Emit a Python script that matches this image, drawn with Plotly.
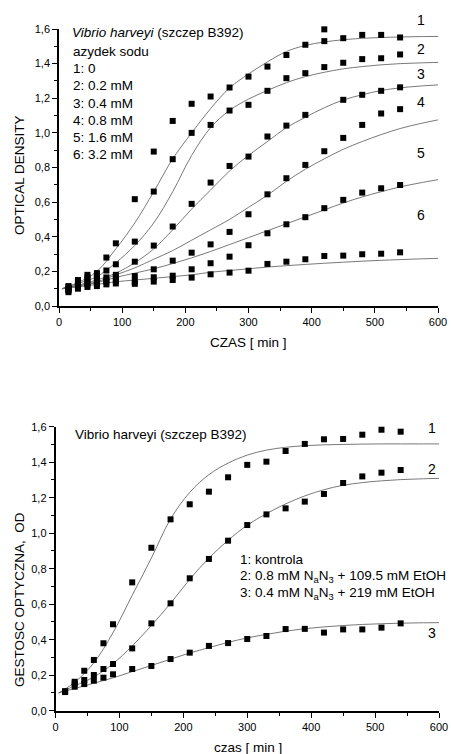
import plotly.graph_objects as go

W, H = 451, 754
FONT = "Liberation Sans, Arial, sans-serif"

# ---------------- data: top chart (sodium azide series) ----------------
time_pts = [15, 30, 45, 60, 75, 90, 120, 150, 180, 210, 240, 270, 300, 330, 360, 390, 420, 450, 480, 510, 540]

top_s1_t = time_pts + [420]
top_s1 = [0.115, 0.15, 0.18, 0.19, 0.28, 0.362, 0.617, 0.892, 1.069, 1.168, 1.21, 1.262, 1.325, 1.383,
          1.45, 1.509, 1.53, 1.547, 1.566, 1.566, 1.551, 1.598]
top_s2_t = time_pts
top_s2 = [0.11, 0.14, 0.165, 0.175, 0.205, 0.241, 0.372, 0.661, 0.848, 1.0, 1.046, 1.129, 1.162, 1.243,
          1.316, 1.345, 1.38, 1.405, 1.426, 1.431, 1.453]
top_s3_t = [15, 30, 45, 60, 75, 90, 120, 150, 180, 210, 240, 270, 300, 330, 360, 390, 450, 480, 510, 540]
top_s3 = [0.10, 0.13, 0.15, 0.16, 0.165, 0.18, 0.256, 0.349, 0.459, 0.59, 0.713, 0.809, 0.863, 0.979,
          1.042, 1.104, 1.191, 1.22, 1.243, 1.263]
top_s4_t = time_pts
top_s4 = [0.095, 0.12, 0.135, 0.145, 0.15, 0.165, 0.173, 0.212, 0.262, 0.308, 0.356, 0.428, 0.53, 0.645,
          0.738, 0.815, 0.894, 0.971, 1.046, 1.112, 1.137]
top_s5_t = time_pts
top_s5 = [0.09, 0.11, 0.125, 0.13, 0.14, 0.145, 0.14, 0.166, 0.175, 0.212, 0.247, 0.285, 0.351, 0.42,
          0.472, 0.513, 0.565, 0.613, 0.655, 0.68, 0.699]
top_s6_t = time_pts
top_s6 = [0.08, 0.10, 0.11, 0.115, 0.125, 0.13, 0.128, 0.141, 0.15, 0.164, 0.183, 0.193, 0.204, 0.243,
          0.256, 0.27, 0.289, 0.291, 0.299, 0.302, 0.31]

# fitted curves
curve_t = [5, 30, 60, 90, 120, 150, 180, 210, 240, 270, 300, 330, 360, 390, 420, 450, 480, 510, 540, 570, 600]
top_c1 = [0.10, 0.135, 0.20, 0.33, 0.48, 0.66, 0.85, 1.00, 1.14, 1.26, 1.34, 1.41, 1.47, 1.505, 1.525,
          1.538, 1.546, 1.551, 1.554, 1.556, 1.557]
top_c2 = [0.10, 0.13, 0.17, 0.25, 0.35, 0.48, 0.66, 0.87, 1.03, 1.13, 1.195, 1.245, 1.29, 1.325, 1.35,
          1.37, 1.383, 1.393, 1.40, 1.404, 1.407]
top_c3 = [0.10, 0.12, 0.15, 0.19, 0.25, 0.33, 0.44, 0.56, 0.67, 0.78, 0.87, 0.95, 1.03, 1.09, 1.145,
          1.19, 1.22, 1.245, 1.26, 1.27, 1.277]
top_c4 = [0.10, 0.12, 0.14, 0.18, 0.22, 0.27, 0.32, 0.38, 0.44, 0.50, 0.57, 0.64, 0.72, 0.79, 0.85,
          0.905, 0.95, 0.99, 1.025, 1.052, 1.075]
top_c5 = [0.10, 0.115, 0.135, 0.165, 0.19, 0.215, 0.245, 0.278, 0.315, 0.355, 0.395, 0.435, 0.475, 0.515,
          0.555, 0.595, 0.63, 0.66, 0.688, 0.71, 0.73]
top_c6 = [0.10, 0.11, 0.125, 0.14, 0.15, 0.16, 0.17, 0.18, 0.195, 0.205, 0.215, 0.225, 0.233, 0.24,
          0.247, 0.253, 0.259, 0.264, 0.268, 0.272, 0.275]

# ---------------- data: bottom chart (NaN3 + EtOH) ----------------
bot_s1 = [0.107, 0.163, 0.225, 0.286, 0.38, 0.487, 0.723, 0.918, 1.078, 1.163, 1.234, 1.315, 1.385, 1.403,
          1.463, 1.503, 1.529, 1.531, 1.555, 1.583, 1.572]
bot_s2 = [0.11, 0.154, 0.173, 0.201, 0.235, 0.263, 0.351, 0.492, 0.605, 0.746, 0.855, 0.958, 1.046, 1.106,
          1.14, 1.178, 1.221, 1.283, 1.32, 1.341, 1.356]
bot_s3 = [0.105, 0.135, 0.15, 0.169, 0.186, 0.205, 0.235, 0.252, 0.291, 0.327, 0.365, 0.381, 0.404, 0.421,
          0.46, 0.461, 0.44, 0.458, 0.458, 0.468, 0.492]

bot_c1 = [0.10, 0.16, 0.27, 0.44, 0.65, 0.86, 1.08, 1.23, 1.33, 1.395, 1.44, 1.468, 1.484, 1.493, 1.498,
          1.50, 1.502, 1.503, 1.503, 1.503, 1.503]
bot_c2 = [0.10, 0.14, 0.19, 0.265, 0.365, 0.48, 0.605, 0.74, 0.86, 0.96, 1.045, 1.11, 1.165, 1.21, 1.245,
          1.27, 1.285, 1.295, 1.302, 1.306, 1.309]
bot_c3 = [0.10, 0.125, 0.155, 0.185, 0.22, 0.255, 0.29, 0.325, 0.355, 0.385, 0.41, 0.43, 0.448, 0.462,
          0.472, 0.48, 0.486, 0.49, 0.493, 0.495, 0.496]

y_ticks = [0, 0.2, 0.4, 0.6, 0.8, 1.0, 1.2, 1.4, 1.6]
x_ticks = [0, 100, 200, 300, 400, 500, 600]

fig = go.Figure()

CURVE = dict(color="#6a6a6a", width=0.9, shape="spline", smoothing=1.0)
MARK = dict(symbol="square", size=6, color="black")

for c in [top_c1, top_c2, top_c3, top_c4, top_c5, top_c6]:
    fig.add_trace(go.Scatter(x=curve_t, y=c, mode="lines", line=CURVE, xaxis="x", yaxis="y",
                             showlegend=False, hoverinfo="skip"))
for tt, s in [(top_s1_t, top_s1), (top_s2_t, top_s2), (top_s3_t, top_s3),
              (top_s4_t, top_s4), (top_s5_t, top_s5), (top_s6_t, top_s6)]:
    fig.add_trace(go.Scatter(x=tt, y=s, mode="markers", marker=MARK, xaxis="x", yaxis="y",
                             showlegend=False, cliponaxis=False))

for c in [bot_c1, bot_c2, bot_c3]:
    fig.add_trace(go.Scatter(x=curve_t, y=c, mode="lines", line=CURVE, xaxis="x2", yaxis="y2",
                             showlegend=False, hoverinfo="skip"))
for s in [bot_s1, bot_s2, bot_s3]:
    fig.add_trace(go.Scatter(x=time_pts, y=s, mode="markers", marker=MARK, xaxis="x2", yaxis="y2",
                             showlegend=False, cliponaxis=False))


def px_x(p):
    return p / W


def px_y(p):
    return 1 - p / H


def xaxis(domain, anchor):
    return dict(domain=domain, anchor=anchor, range=[0, 600], tickvals=x_ticks,
                ticks="outside", ticklen=5, tickwidth=1, tickcolor="black",
                showline=True, linecolor="black", linewidth=1.6, showgrid=False, zeroline=False,
                minor=dict(dtick=50, tick0=0, ticks="outside", ticklen=3, tickwidth=1, tickcolor="black",
                           showgrid=False),
                tickfont=dict(family=FONT, size=11, color="black"), automargin=False)


def yaxis(domain, anchor):
    return dict(domain=domain, anchor=anchor, range=[0, 1.6], tickvals=y_ticks, tickformat=".1f",
                ticks="outside", ticklen=5, tickwidth=1, tickcolor="black",
                showline=True, linecolor="black", linewidth=1.6, showgrid=False, zeroline=False,
                minor=dict(dtick=0.1, tick0=0, ticks="outside", ticklen=3, tickwidth=1, tickcolor="black",
                           showgrid=False),
                tickfont=dict(family=FONT, size=11, color="black"), automargin=False)


annotations = []


def note(text, x, y, size=13.5, xanchor="left", angle=0):
    annotations.append(dict(text=text, x=px_x(x), y=px_y(y), xref="paper", yref="paper",
                            showarrow=False, xanchor=xanchor, yanchor="middle", textangle=angle,
                            font=dict(family=FONT, size=size, color="black")))


# top chart texts
note("<i>Vibrio harveyi</i> (szczep B392)", 70, 33)
top_legend = ["azydek sodu", "1: 0", "2: 0.2 mM", "3: 0.4 mM", "4: 0.8 mM", "5: 1.6 mM", "6: 3.2 mM"]
for i, t in enumerate(top_legend):
    note(t, 71, 51.5 + i * 17.2)
for lab, yy in zip(["1", "2", "3", "4", "5", "6"], [20, 49, 74, 102, 153, 215]):
    note(lab, 415, yy, size=14)
note("CZAS [ min ]", 248, 343, xanchor="center")
note("OPTICAL DENSITY", 19, 175, xanchor="center", angle=-90)

# bottom chart texts
note("Vibrio harveyi (szczep B392)", 73, 434)
bot_legend = ["1: kontrola",
              "2: 0.8 mM N<sub>a</sub>N<sub>3</sub> + 109.5 mM EtOH",
              "3: 0.4 mM N<sub>a</sub>N<sub>3</sub> + 219 mM EtOH"]
for i, t in enumerate(bot_legend):
    note(t, 238, 559 + i * 17.3)
for lab, yy in zip(["1", "2", "3"], [428, 469, 633]):
    note(lab, 426, yy, size=14)
note("czas [ min ]", 248, 747, xanchor="center")
note("GESTOSC OPTYCZNA,  OD", 19, 600, xanchor="center", angle=-90)

fig.update_layout(
    width=W, height=H, margin=dict(l=0, r=0, t=0, b=0),
    paper_bgcolor="white", plot_bgcolor="white",
    separators=",.",
    showlegend=False,
    xaxis=xaxis([px_x(59), px_x(438)], "y"),
    yaxis=yaxis([px_y(306), px_y(29)], "x"),
    xaxis2=xaxis([px_x(55.5), px_x(439)], "y2"),
    yaxis2=yaxis([px_y(710.7), px_y(426.7)], "x2"),
    annotations=annotations,
)

fig.write_html("out.html",
               config={"displayModeBar": False},
               post_script="document.body.style.margin='0';document.body.style.padding='0';"
                           "document.body.style.overflow='hidden';")
